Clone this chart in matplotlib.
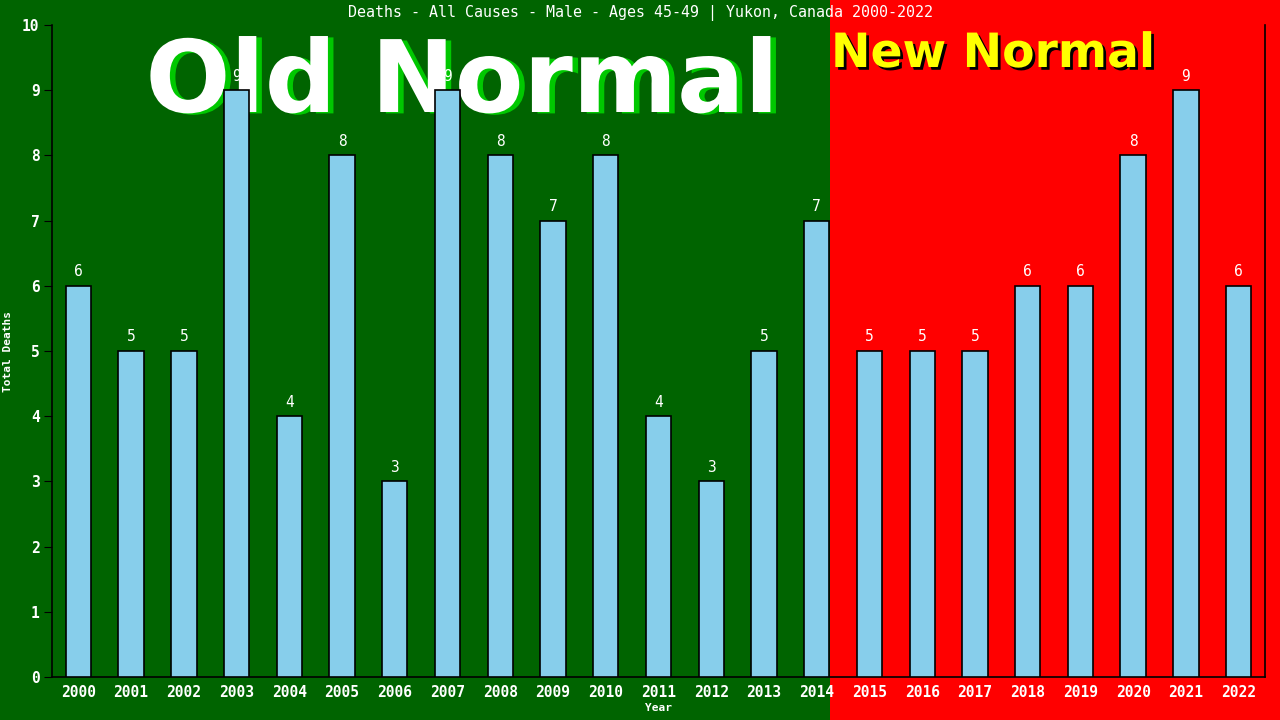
import matplotlib
matplotlib.use("Agg")
import matplotlib.pyplot as plt
import matplotlib.patheffects as pe
from matplotlib.patches import Rectangle

years = [str(y) for y in range(2000, 2023)]
deaths = [6, 5, 5, 9, 4, 8, 3, 9, 8, 7, 8, 4, 3, 5, 7, 5, 5, 5, 6, 6, 8, 9, 6]
title = "Deaths - All Causes - Male - Ages 45-49 | Yukon, Canada 2000-2022"
y_ticks = list(range(0, 11))

mono = "DejaVu Sans Mono"
fig = plt.figure(figsize=(12.8, 7.2), dpi=100)
fig.patch.set_facecolor("#006400")
split = 830 / 1280
fig.patches.append(Rectangle((split, 0), 1 - split, 1, transform=fig.transFigure,
                             facecolor="#FF0000", edgecolor="none", zorder=-2))

ax = fig.add_axes([52 / 1280, 43 / 720, (1265 - 52) / 1280, (677 - 25) / 720])
ax.set_facecolor("none")
x = list(range(len(years)))
ax.bar(x, deaths, width=0.48, color="#87CEEB", edgecolor="black", linewidth=1.2, zorder=3)
for xi, v in zip(x, deaths):
    ax.text(xi, v + 0.1, str(v), ha="center", va="bottom", color="white",
            fontsize=10.5, family=mono, zorder=4)

ax.set_xlim(-0.5, len(years) - 0.5)
ax.set_ylim(0, 10)
ax.set_yticks(y_ticks)
ax.set_xticks(x)
ax.set_xticklabels(years)
for lab in ax.get_xticklabels() + ax.get_yticklabels():
    lab.set_family(mono)
    lab.set_fontweight("bold")
    lab.set_fontsize(10.5)
    lab.set_color("white")
ax.tick_params(axis="x", length=0, pad=6)
ax.tick_params(axis="y", length=6, color="black", pad=3)
for s in ["left", "bottom", "right"]:
    ax.spines[s].set_color("black")
    ax.spines[s].set_linewidth(1.2)
ax.spines["top"].set_visible(False)
ax.set_xlabel("Year", color="white", fontsize=8, family=mono, fontweight="bold", labelpad=2)
ax.set_ylabel("Total Deaths", color="white", fontsize=8, family=mono, fontweight="bold")
ax.yaxis.set_label_coords((13 - 52) / 1213, 0.5)

fig.text(0.5, 1 - 13 / 720, title, ha="center", va="center", color="white",
         fontsize=10.8, family=mono)

fig.text(462 / 1280, 1 - 112 / 720, "Old Normal", ha="center", va="baseline",
         color="white", fontsize=72, fontweight="bold", family="DejaVu Sans",
         path_effects=[pe.SimplePatchShadow(offset=(4, -1), shadow_rgbFace="#00C800", alpha=1),
                       pe.Normal()], zorder=-1)
fig.text(831 / 1280, 1 - 67 / 720, "New Normal", ha="left", va="baseline",
         color="#FFFF00", fontsize=34, fontweight="bold", family="DejaVu Sans",
         path_effects=[pe.SimplePatchShadow(offset=(2, -2), shadow_rgbFace="black", alpha=1),
                       pe.Normal()], zorder=-1)

fig.savefig("out.png", dpi=100, facecolor=fig.get_facecolor())
